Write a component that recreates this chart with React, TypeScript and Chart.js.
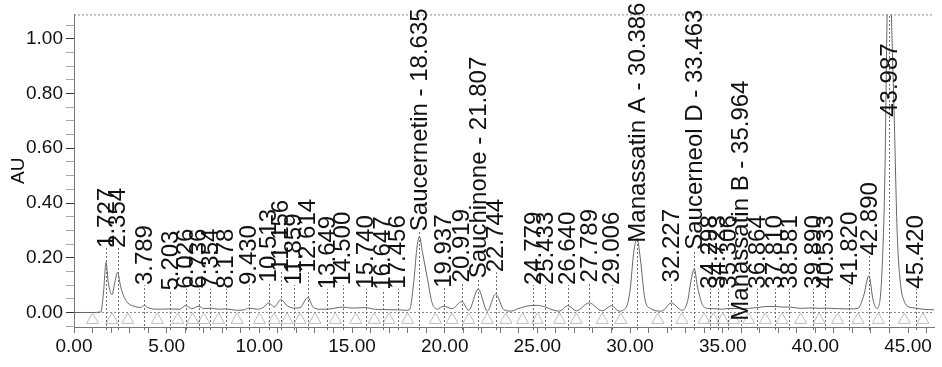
import React, { useEffect, useRef } from "react";
import { Chart, registerables } from "chart.js";

Chart.register(...registerables);

// Chromatogram trace (minutes, AU)
const traceTime = [
  0.0, 1.0, 1.45, 1.6, 1.727, 1.85, 2.05, 2.2, 2.354, 2.5, 2.65, 2.9, 3.3, 3.6, 3.789, 4.0, 4.6,
  5.203, 5.7, 6.026, 6.35, 6.736, 7.0, 7.354, 7.8, 8.178, 8.8, 9.2, 9.43, 9.9, 10.2, 10.513, 10.8,
  11.156, 11.5, 11.859, 12.2, 12.614, 12.9, 13.3, 13.649, 14.1, 14.5, 15.0, 15.74, 16.2, 16.647,
  17.0, 17.456, 17.9, 18.1, 18.35, 18.49, 18.635, 18.8, 19.07, 19.3, 19.6, 19.937, 20.4, 20.919,
  21.3, 21.807, 22.3, 22.744, 23.2, 23.6, 24.0, 24.6, 25.0, 25.433, 25.9, 26.2, 26.64, 27.1,
  27.789, 28.5, 29.006, 29.4, 29.8, 30.0, 30.2, 30.386, 30.55, 30.8, 31.1, 31.7, 32.227, 32.8,
  33.1, 33.3, 33.463, 33.65, 33.9, 34.2, 34.5, 35.0, 35.306, 35.964, 36.4, 36.864, 37.4, 37.81,
  38.2, 38.581, 39.2, 39.89, 40.2, 40.533, 41.2, 41.82, 42.3, 42.6, 42.89, 43.1, 43.3, 43.45,
  43.6, 43.75, 43.87, 43.987, 44.1, 44.24, 44.42, 44.6, 44.8, 45.0, 45.42, 45.8, 46.4,
];
const traceAU = [
  0.0, 0.0, 0.002, 0.08, 0.183, 0.11, 0.065, 0.11, 0.147, 0.1, 0.065, 0.035, 0.022, 0.018, 0.026, 0.017, 0.012,
  0.013, 0.012, 0.025, 0.014, 0.023, 0.014, 0.016, 0.012, 0.013, 0.008, 0.01, 0.016, 0.012, 0.018, 0.035, 0.02,
  0.047, 0.025, 0.016, 0.018, 0.055, 0.02, 0.012, 0.012, 0.016, 0.02, 0.016, 0.018, 0.012, 0.011,
  0.01, 0.01, 0.008, 0.01, 0.124, 0.23, 0.278, 0.22, 0.124, 0.04, 0.012, 0.023, 0.014, 0.04,
  0.008, 0.086, 0.005, 0.067, 0.01, 0.005, 0.015, 0.025, 0.026, 0.02, 0.008, 0.005, 0.025, 0.006,
  0.035, 0.006, 0.025, 0.005, 0.02, 0.08, 0.22, 0.27, 0.2, 0.05, 0.015, 0.005, 0.035, 0.008,
  0.04, 0.12, 0.16, 0.09, 0.03, 0.015, 0.014, 0.012, 0.015, 0.014, 0.015, 0.018, 0.022, 0.022,
  0.02, 0.02, 0.015, 0.017, 0.015, 0.016, 0.014, 0.013, 0.015, 0.06, 0.135, 0.05, 0.015, 0.03,
  0.16, 0.5, 1.09, 1.4, 1.09, 0.75, 0.28, 0.1, 0.04, 0.022, 0.016, 0.012, 0.01,
];

// Integrated peaks: retention time, compound name, label level (AU)
const peakTimes = [
  1.727, 2.354, 3.789, 5.203, 6.026, 6.736, 7.354, 8.178, 9.43, 10.513, 11.156, 11.859, 12.614,
  13.649, 14.5, 15.74, 16.647, 17.456, 18.635, 19.937, 20.919, 21.807, 22.744, 24.779, 25.433,
  26.64, 27.789, 29.006, 30.386, 32.227, 33.463, 34.298, 34.723, 35.306, 35.964, 36.864, 37.81,
  38.581, 39.89, 40.533, 41.82, 42.89, 43.987, 45.42,
];
const peakNames = [
  "", "", "", "", "", "", "", "", "", "", "", "", "",
  "", "", "", "", "", "Saucernetin", "", "", "Sauchinone", "", "", "",
  "", "", "", "Manassatin A", "", "Saucerneol D", "", "", "", "Manassatin B", "", "",
  "", "", "", "", "", "", "",
];
const labelLevels = [
  0.236, 0.236, 0.1, 0.08, 0.087, 0.087, 0.087, 0.087, 0.1, 0.11, 0.15, 0.1, 0.147,
  0.085, 0.1, 0.087, 0.083, 0.087, 0.297, 0.09, 0.11, 0.125, 0.147, 0.1, 0.1,
  0.1, 0.11, 0.1, 0.255, 0.11, 0.229, 0.087, 0.087, 0.087, -0.03, 0.087, 0.087,
  0.087, 0.087, 0.087, 0.1, 0.208, 0.715, 0.087,
];

// Integration (peak start / end) marks below the baseline
const markTimes = [
  1.0, 2.05, 2.9, 4.5, 5.6, 6.4, 7.0, 7.8, 8.8, 10.0, 10.8, 11.5, 12.2, 13.0, 14.1, 15.2, 16.2,
  17.0, 18.0, 19.5, 20.4, 21.3, 22.3, 23.3, 24.2, 25.0, 26.2, 27.1, 28.5, 29.5, 31.5, 32.8, 34.0,
  34.5, 35.0, 35.6, 36.4, 37.3, 38.2, 39.2, 40.2, 41.2, 42.3, 43.4, 44.8, 45.8,
];
const markLevel = -0.027;

const xTickLabels = ["0.00", "5.00", "10.00", "15.00", "20.00", "25.00", "30.00", "35.00", "40.00", "45.00"];
const yTickLabels = ["0.00", "0.20", "0.40", "0.60", "0.80", "1.00"];

const X_MIN = 0;
const X_MAX = 46.4;
const Y_MIN = -0.053;
const Y_MAX = 1.089;

const TICK_FONT = "'Liberation Sans', Arial, sans-serif";
const LABEL_FONT = "'Liberation Sans', Arial, sans-serif";

function traceAt(t: number): number {
  for (let i = 1; i < traceTime.length; i++) {
    if (t <= traceTime[i]) {
      const t0 = traceTime[i - 1];
      const t1 = traceTime[i];
      const f = (t - t0) / (t1 - t0);
      return traceAU[i - 1] + f * (traceAU[i] - traceAU[i - 1]);
    }
  }
  return traceAU[traceAU.length - 1];
}

const peakPlugin = {
  id: "peakLabels",
  beforeDatasetsDraw(chart: any) {
    const { ctx, chartArea, scales } = chart;
    const y = scales.y;
    ctx.save();
    ctx.strokeStyle = "#8a8a8a";
    ctx.lineWidth = 1;
    ctx.setLineDash([2, 2]);
    const y0 = Math.round(y.getPixelForValue(0)) + 0.5;
    ctx.beginPath();
    ctx.moveTo(chartArea.left, y0);
    ctx.lineTo(chartArea.right, y0);
    ctx.stroke();
    ctx.beginPath();
    ctx.moveTo(chartArea.left, chartArea.top + 0.5);
    ctx.lineTo(chartArea.right, chartArea.top + 0.5);
    ctx.stroke();
    ctx.restore();
  },
  afterDatasetsDraw(chart: any) {
    const { ctx, chartArea, scales } = chart;
    const x = scales.x;
    const y = scales.y;
    ctx.save();
    ctx.lineWidth = 1;
    ctx.strokeStyle = "#6e6e6e";
    ctx.setLineDash([2, 2]);
    peakTimes.forEach((t, i) => {
      const px = Math.round(x.getPixelForValue(t)) + 0.5;
      const topVal = Math.max(labelLevels[i], traceAt(t));
      const pyTop = Math.max(chartArea.top, y.getPixelForValue(topVal));
      ctx.beginPath();
      ctx.moveTo(px, chartArea.bottom + 3);
      ctx.lineTo(px, pyTop);
      ctx.stroke();
    });
    ctx.setLineDash([]);
    ctx.fillStyle = "#111";
    ctx.font = `24px ${LABEL_FONT}`;
    ctx.textAlign = "left";
    ctx.textBaseline = "middle";
    peakTimes.forEach((t, i) => {
      const txt = peakNames[i] ? `${peakNames[i]} - ${t.toFixed(3)}` : t.toFixed(3);
      const px = x.getPixelForValue(t);
      const py = y.getPixelForValue(labelLevels[i]);
      ctx.save();
      ctx.translate(px + 1, py);
      ctx.rotate(-Math.PI / 2);
      ctx.fillText(txt, 0, 0);
      ctx.restore();
    });
    ctx.restore();
  },
};

export default function App() {
  const canvasRef = useRef<HTMLCanvasElement | null>(null);

  useEffect(() => {
    if (!canvasRef.current) return;
    const chart = new Chart(canvasRef.current, {
      type: "line",
      data: {
        datasets: [
          {
            label: "AU",
            data: traceTime.map((t, i) => ({ x: t, y: traceAU[i] })),
            borderColor: "#666",
            borderWidth: 1,
            pointRadius: 0,
            fill: false,
            cubicInterpolationMode: "monotone",
          },
          {
            label: "marks",
            data: markTimes.map((t) => ({ x: t, y: markLevel })),
            showLine: false,
            pointStyle: "triangle",
            pointRadius: 7,
            borderColor: "#bdbdbd",
            backgroundColor: "rgba(0,0,0,0)",
            borderWidth: 1,
          },
        ],
      },
      options: {
        responsive: true,
        maintainAspectRatio: false,
        animation: false,
        events: [],
        layout: { padding: { top: 5, right: 2, left: 0, bottom: 0 } },
        plugins: {
          legend: { display: false },
          tooltip: { enabled: false },
          title: { display: false },
        },
        scales: {
          x: {
            type: "linear",
            position: "bottom",
            min: X_MIN,
            max: X_MAX,
            afterFit: (s: any) => {
              s.height = 40;
            },
            grid: {
              drawOnChartArea: false,
              drawTicks: true,
              tickLength: 6,
              tickColor: "#777",
            },
            border: { display: true, color: "#777", dash: [2, 2] },
            ticks: {
              stepSize: 1,
              includeBounds: false,
              autoSkip: false,
              maxRotation: 0,
              padding: 2,
              color: "#111",
              font: { family: TICK_FONT, size: 19 },
              callback: (v: any) => {
                const lbl = Number(v).toFixed(2);
                return xTickLabels.includes(lbl) ? lbl : "";
              },
            },
          },
          y: {
            type: "linear",
            min: Y_MIN,
            max: Y_MAX,
            afterFit: (s: any) => {
              s.width = 74;
            },
            title: {
              display: true,
              text: "AU",
              color: "#111",
              font: { family: LABEL_FONT, size: 19 },
              padding: { top: 7, bottom: 0 },
            },
            grid: {
              drawOnChartArea: false,
              drawTicks: true,
              tickLength: 8,
              tickColor: (c: any) => {
                const lbl = Number(c.tick?.value).toFixed(2);
                return yTickLabels.includes(lbl) ? "#333" : "#aaa";
              },
            },
            border: { display: true, color: "#777", dash: [2, 2] },
            ticks: {
              stepSize: 0.05,
              includeBounds: false,
              autoSkip: false,
              padding: 3,
              color: "#111",
              font: { family: TICK_FONT, size: 19 },
              callback: (v: any) => {
                const lbl = Number(v).toFixed(2);
                return yTickLabels.includes(lbl) ? lbl : "";
              },
            },
          },
        },
      },
      plugins: [peakPlugin],
    });
    return () => chart.destroy();
  }, []);

  return (
    <div
      style={{
        position: "absolute",
        left: 0,
        top: 0,
        width: 942,
        height: 367,
        background: "#fff",
      }}
    >
      <canvas ref={canvasRef} />
    </div>
  );
}
